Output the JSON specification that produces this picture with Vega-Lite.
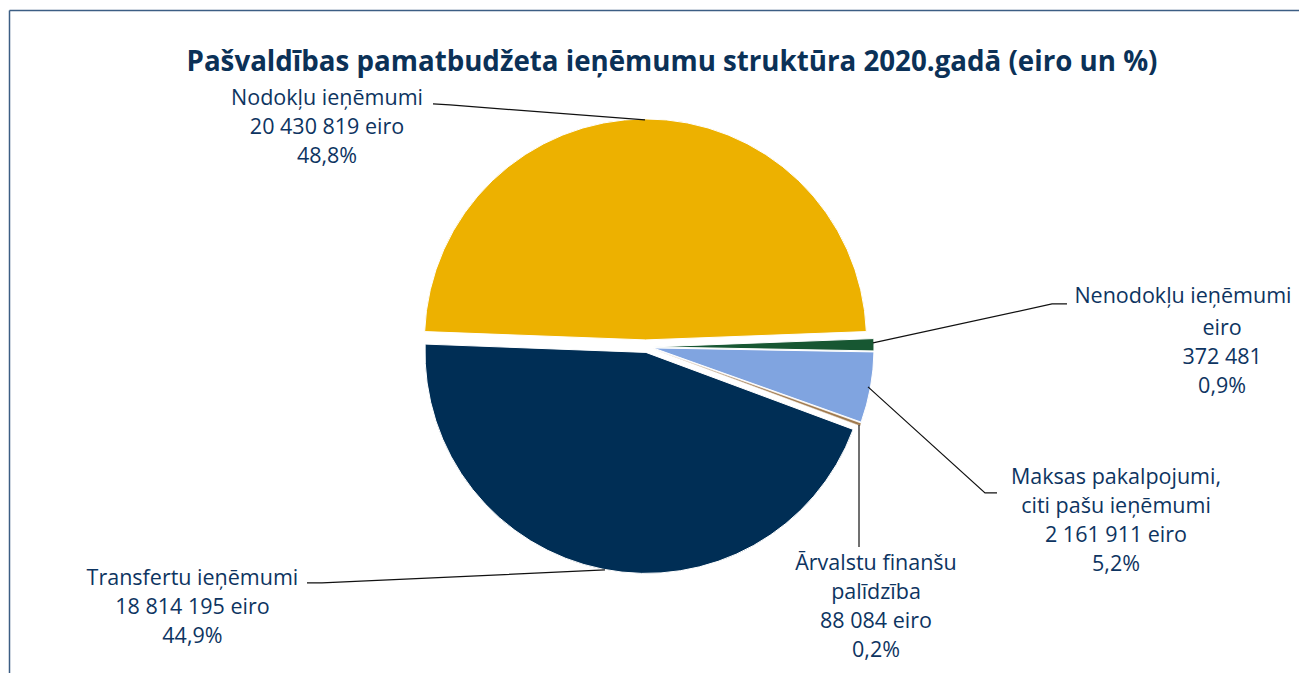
{
  "$schema": "https://vega.github.io/schema/vega-lite/v6.json",
  "autosize": {"type": "none"},
  "padding": {"left": 9, "top": 10, "right": 0, "bottom": 0},
  "width": 1290,
  "height": 663,
  "background": "white",
  "title": {
    "text": "Pašvaldības pamatbudžeta ieņēmumu struktūra 2020.gadā (eiro un %)",
    "font": "Open Sans",
    "fontSize": 27.7,
    "fontWeight": "bold",
    "color": "#0b3157",
    "anchor": "middle",
    "baseline": "alphabetic",
    "offset": -89,
    "dx": 18
  },
  "config": {
    "view": {"stroke": null},
    "axis": {"domain": true, "domainColor": "#3c5e84", "domainWidth": 1.5, "ticks": false, "labels": false, "grid": false, "title": null}
  },
  "datasets": {
    "slices": [
      {"category": "Nodokļu ieņēmumi", "value": 20430819, "order": 1},
      {"category": "Nenodokļu ieņēmumi", "value": 372481, "order": 2},
      {"category": "Maksas pakalpojumi, citi pašu ieņēmumi", "value": 2161911, "order": 3},
      {"category": "Ārvalstu finanšu palīdzība", "value": 88084, "order": 4},
      {"category": "Transfertu ieņēmumi", "value": 18814195, "order": 5}
    ],
    "labels": [
      {"text": "Nodokļu ieņēmumi\n20 430 819 eiro\n48,8%", "lx": -1.441, "ly": 1.0905},
      {"text": "Nenodokļu ieņēmumi", "lx": 2.432, "ly": 0.1946},
      {"text": "eiro\n372 481\n0,9%", "lx": 2.609, "ly": 0.0498},
      {"text": "Maksas pakalpojumi,\nciti pašu ieņēmumi\n2 161 911 eiro\n5,2%", "lx": 2.129, "ly": -0.6244},
      {"text": "Ārvalstu finanšu\npalīdzība\n88 084 eiro\n0,2%", "lx": 1.043, "ly": -1.0136},
      {"text": "Transfertu ieņēmumi\n18 814 195 eiro\n44,9%", "lx": -2.05, "ly": -1.0814}
    ],
    "leaders": [
      {"label": "Nodokļu", "seq": 1, "lx": -0.9615, "ly": 1.095},
      {"label": "Nodokļu", "seq": 2, "lx": -0.8846, "ly": 1.0905},
      {"label": "Nodokļu", "seq": 3, "lx": -0.0023, "ly": 1.0226},
      {"label": "Nenodokļu", "seq": 1, "lx": 1.9072, "ly": 0.19},
      {"label": "Nenodokļu", "seq": 2, "lx": 1.8394, "ly": 0.19},
      {"label": "Nenodokļu", "seq": 3, "lx": 1.0294, "ly": 0.0136},
      {"label": "Maksas", "seq": 1, "lx": 1.5905, "ly": -0.6652},
      {"label": "Maksas", "seq": 2, "lx": 1.5362, "ly": -0.6652},
      {"label": "Maksas", "seq": 3, "lx": 1.0068, "ly": -0.1855},
      {"label": "Ārvalstu", "seq": 1, "lx": 0.9661, "ly": -0.9095},
      {"label": "Ārvalstu", "seq": 2, "lx": 0.9661, "ly": -0.3575},
      {"label": "Transfertu", "seq": 1, "lx": -1.5317, "ly": -1.0724},
      {"label": "Transfertu", "seq": 2, "lx": -1.4638, "ly": -1.0724},
      {"label": "Transfertu", "seq": 3, "lx": -0.1833, "ly": -1.0136}
    ]
  },
  "layer": [
    {
      "data": {"name": "slices"},
      "transform": [
        {"stack": "value", "groupby": [], "sort": [{"field": "order", "order": "ascending"}], "as": ["t0", "t1"]},
        {"filter": "datum.order == 1"}
      ],
      "mark": {"type": "arc", "outerRadius": 221, "stroke": "white", "strokeWidth": 1, "xOffset": 0, "yOffset": -6},
      "encoding": {
        "x": {"datum": 0, "type": "quantitative", "scale": {"domain": [-2.88, 2.957], "nice": false, "zero": false}, "axis": {"orient": "top"}},
        "y": {"datum": 0, "type": "quantitative", "scale": {"domain": [-1.48, 1.52], "nice": false, "zero": false}, "axis": {"orient": "left"}},
        "theta": {"field": "t0", "type": "quantitative", "stack": null, "scale": {"domain": [0, 41867490], "range": [-1.5331, 4.7501]}},
        "theta2": {"field": "t1"},
        "color": {"field": "category", "type": "nominal", "legend": null, "scale": {"domain": ["Nodokļu ieņēmumi", "Nenodokļu ieņēmumi", "Maksas pakalpojumi, citi pašu ieņēmumi", "Ārvalstu finanšu palīdzība", "Transfertu ieņēmumi"], "range": ["#EDB100", "#175732", "#80A4E0", "#A07A4E", "#002E55"]}}
      }
    },
    {
      "data": {"name": "slices"},
      "transform": [
        {"stack": "value", "groupby": [], "sort": [{"field": "order", "order": "ascending"}], "as": ["t0", "t1"]},
        {"filter": "datum.order == 2"}
      ],
      "mark": {"type": "arc", "outerRadius": 221, "stroke": "white", "strokeWidth": 1, "xOffset": 7.5, "yOffset": 1},
      "encoding": {
        "x": {"datum": 0, "type": "quantitative", "scale": {"domain": [-2.88, 2.957], "nice": false, "zero": false}, "axis": {"orient": "top"}},
        "y": {"datum": 0, "type": "quantitative", "scale": {"domain": [-1.48, 1.52], "nice": false, "zero": false}, "axis": {"orient": "left"}},
        "theta": {"field": "t0", "type": "quantitative", "stack": null, "scale": {"domain": [0, 41867490], "range": [-1.5331, 4.7501]}},
        "theta2": {"field": "t1"},
        "color": {"field": "category", "type": "nominal", "legend": null}
      }
    },
    {
      "data": {"name": "slices"},
      "transform": [
        {"stack": "value", "groupby": [], "sort": [{"field": "order", "order": "ascending"}], "as": ["t0", "t1"]},
        {"filter": "datum.order == 3"}
      ],
      "mark": {"type": "arc", "outerRadius": 221, "stroke": "white", "strokeWidth": 1, "xOffset": 7.5, "yOffset": 2},
      "encoding": {
        "x": {"datum": 0, "type": "quantitative", "scale": {"domain": [-2.88, 2.957], "nice": false, "zero": false}, "axis": {"orient": "top"}},
        "y": {"datum": 0, "type": "quantitative", "scale": {"domain": [-1.48, 1.52], "nice": false, "zero": false}, "axis": {"orient": "left"}},
        "theta": {"field": "t0", "type": "quantitative", "stack": null, "scale": {"domain": [0, 41867490], "range": [-1.5331, 4.7501]}},
        "theta2": {"field": "t1"},
        "color": {"field": "category", "type": "nominal", "legend": null}
      }
    },
    {
      "data": {"name": "slices"},
      "transform": [
        {"stack": "value", "groupby": [], "sort": [{"field": "order", "order": "ascending"}], "as": ["t0", "t1"]},
        {"filter": "datum.order == 4"}
      ],
      "mark": {"type": "arc", "outerRadius": 221, "stroke": "white", "strokeWidth": 0.5, "xOffset": 7.5, "yOffset": 3},
      "encoding": {
        "x": {"datum": 0, "type": "quantitative", "scale": {"domain": [-2.88, 2.957], "nice": false, "zero": false}, "axis": {"orient": "top"}},
        "y": {"datum": 0, "type": "quantitative", "scale": {"domain": [-1.48, 1.52], "nice": false, "zero": false}, "axis": {"orient": "left"}},
        "theta": {"field": "t0", "type": "quantitative", "stack": null, "scale": {"domain": [0, 41867490], "range": [-1.5331, 4.7501]}},
        "theta2": {"field": "t1"},
        "color": {"field": "category", "type": "nominal", "legend": null}
      }
    },
    {
      "data": {"name": "slices"},
      "transform": [
        {"stack": "value", "groupby": [], "sort": [{"field": "order", "order": "ascending"}], "as": ["t0", "t1"]},
        {"filter": "datum.order == 5"}
      ],
      "mark": {"type": "arc", "outerRadius": 221, "stroke": "white", "strokeWidth": 1, "xOffset": 0.5, "yOffset": 6.5},
      "encoding": {
        "x": {"datum": 0, "type": "quantitative", "scale": {"domain": [-2.88, 2.957], "nice": false, "zero": false}, "axis": {"orient": "top"}},
        "y": {"datum": 0, "type": "quantitative", "scale": {"domain": [-1.48, 1.52], "nice": false, "zero": false}, "axis": {"orient": "left"}},
        "theta": {"field": "t0", "type": "quantitative", "stack": null, "scale": {"domain": [0, 41867490], "range": [-1.5331, 4.7501]}},
        "theta2": {"field": "t1"},
        "color": {"field": "category", "type": "nominal", "legend": null}
      }
    },
    {
      "data": {"name": "leaders"},
      "mark": {"type": "line", "color": "#111111", "strokeWidth": 1.2, "interpolate": "linear"},
      "encoding": {
        "x": {"field": "lx", "type": "quantitative", "scale": {"domain": [-2.88, 2.957], "nice": false, "zero": false}, "axis": {"orient": "top"}},
        "y": {"field": "ly", "type": "quantitative", "scale": {"domain": [-1.48, 1.52], "nice": false, "zero": false}, "axis": {"orient": "left"}},
        "detail": {"field": "label", "type": "nominal"},
        "order": {"field": "seq", "type": "quantitative"}
      }
    },
    {
      "data": {"name": "labels"},
      "mark": {"type": "text", "align": "center", "baseline": "alphabetic", "lineBreak": "\n", "lineHeight": 29, "font": "Open Sans", "fontSize": 21.5, "color": "#0d3461"},
      "encoding": {
        "x": {"field": "lx", "type": "quantitative", "scale": {"domain": [-2.88, 2.957], "nice": false, "zero": false}, "axis": {"orient": "top"}},
        "y": {"field": "ly", "type": "quantitative", "scale": {"domain": [-1.48, 1.52], "nice": false, "zero": false}, "axis": {"orient": "left"}},
        "text": {"field": "text", "type": "nominal"}
      }
    }
  ]
}
